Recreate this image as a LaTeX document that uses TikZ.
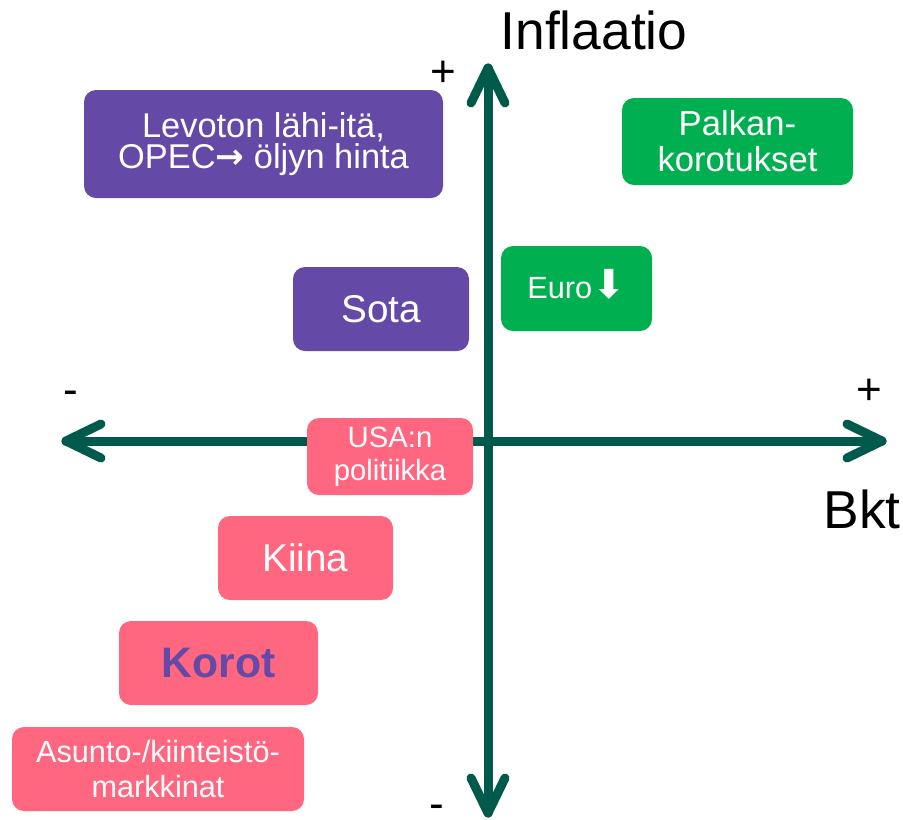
\documentclass[tikz,border=0pt]{standalone}
\usepackage{fontspec}
\setmainfont{Liberation Sans}
\newfontfamily\arrowfont{DejaVu Sans}
\definecolor{axisgreen}{RGB}{0,90,75}
\definecolor{boxpurple}{RGB}{101,73,166}
\definecolor{boxgreen}{RGB}{0,176,80}
\definecolor{boxpink}{RGB}{255,102,128}

\begin{document}
\begin{tikzpicture}[x=0.75pt,y=0.75pt,yscale=-1,xscale=1,
  axis/.style={draw=axisgreen, line width=6.75pt, line cap=round, line join=round},
  tag/.style={rounded corners=9pt, text=white, align=center, inner sep=0pt},
  sign/.style={anchor=base, inner sep=0pt, font=\fontsize{33}{40}\selectfont}]
\useasboundingbox (0,0) rectangle (903,819);

% axes
\coordinate (xneg) at (66,441);
\coordinate (xpos) at (882,441);
\coordinate (ypos) at (488,68);
\coordinate (yneg) at (488,813);
\draw [axis] (xneg) -- (xpos);
\draw [axis] (yneg) -- (ypos);
\draw [axis, shift={(xpos)}, rotate=0] (-35,-17) -- (0,0) -- (-35,17);
\draw [axis, shift={(xneg)}, rotate=180] (-35,-17) -- (0,0) -- (-35,17);
\draw [axis, shift={(ypos)}, rotate=-90] (-35,-17) -- (0,0) -- (-35,17);
\draw [axis, shift={(yneg)}, rotate=90] (-35,-17) -- (0,0) -- (-35,17);

\draw (594,49) node (inflaatio) [anchor=base, font=\fontsize{40}{48}\selectfont] {Inflaatio};
\draw (862,528) node (bkt) [anchor=base, font=\fontsize{40}{48}\selectfont] {Bkt};

\draw (443,86) node (yplus) [sign] {+};
\draw (437,818) node (yminus) [sign] {-};
\draw (869,404) node (xplus) [sign] {+};
\draw (71,404) node (xminus) [sign] {-};

% boxes
\draw (263.5,144) node (levant) [tag, fill=boxpurple, minimum width=269.25pt, minimum height=81pt, font=\fontsize{25.8}{23.5}\selectfont] {Levoton lähi-itä,\\OPEC{\arrowfont\bfseries →} öljyn hinta};
\draw (737.5,141.5) node (palkka) [tag, fill=boxgreen, minimum width=173.25pt, minimum height=65.25pt, font=\fontsize{26}{27}\selectfont] {Palkan-\\korotukset};
\draw (576.5,288.5) node (euro) [tag, fill=boxgreen, minimum width=113.25pt, minimum height=63.75pt, font=\fontsize{23}{27}\selectfont] {Euro\raisebox{0pt}[0pt][0pt]{\arrowfont\fontsize{30}{27}\selectfont ⬇}};
\draw (381,309) node (sota) [tag, fill=boxpurple, minimum width=132pt, minimum height=63pt, font=\fontsize{29}{34}\selectfont] {Sota};
\draw (390,456.5) node (usa) [tag, fill=boxpink, minimum width=124.5pt, minimum height=57.75pt, font=\fontsize{22}{24.5}\selectfont] {USA:n\\politiikka};
\draw (305.5,558) node (kiina) [tag, fill=boxpink, minimum width=131.25pt, minimum height=63pt, font=\fontsize{29}{34}\selectfont] {Kiina};
\draw (218.5,663) node (korot) [tag, fill=boxpink, text=boxpurple, minimum width=149.25pt, minimum height=63pt, font=\bfseries\fontsize{32}{38}\selectfont] {Korot};
\draw (158,769) node (asunto) [tag, fill=boxpink, minimum width=219pt, minimum height=63pt, font=\fontsize{23}{26.8}\selectfont] {Asunto-/kiinteistö-\\markkinat};

\end{tikzpicture}
\end{document}
